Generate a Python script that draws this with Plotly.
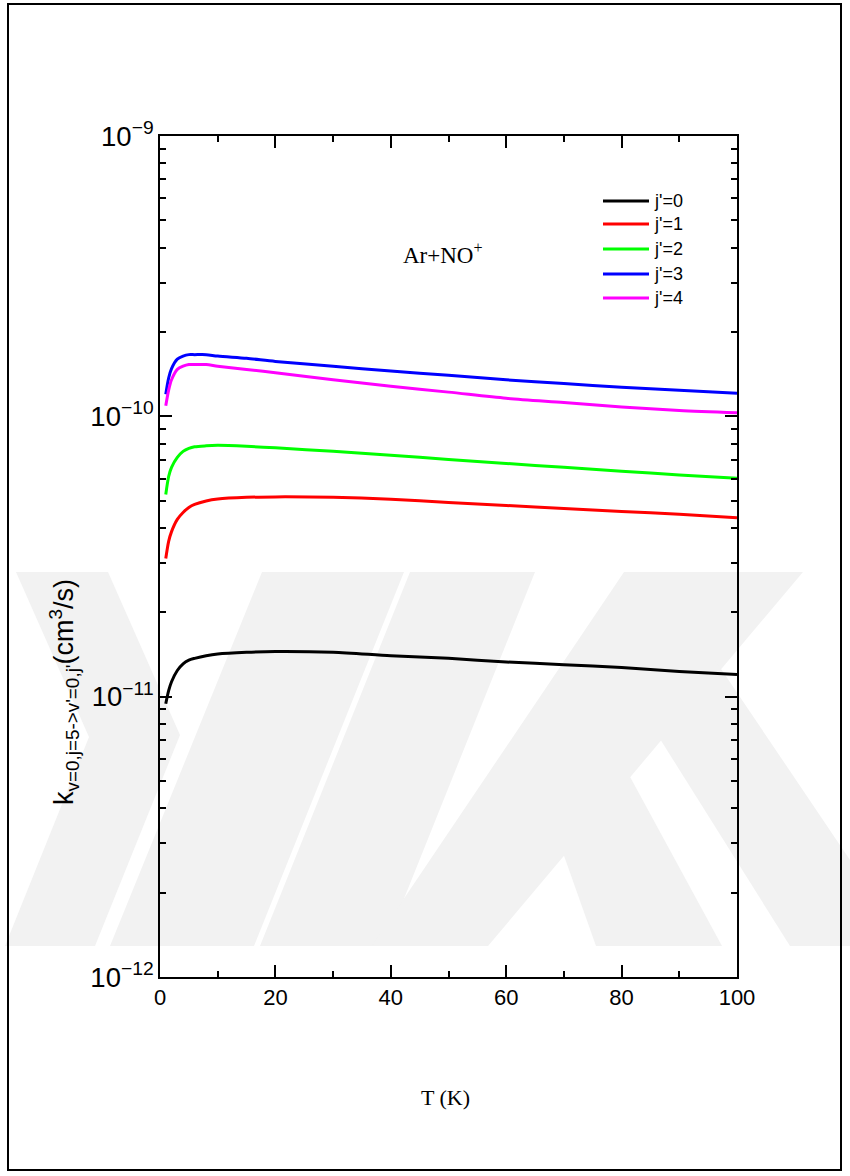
import plotly.graph_objects as go

# Temperature grid (K)
T = [1, 1.5, 2, 3, 4, 5, 6, 8, 10, 15, 20, 30, 40, 50, 60, 70, 80, 90, 100]

# Rate coefficients k(v=0,j=5 -> v'=0,j') in cm^3/s
k_j0 = [9.44e-12, 1.05e-11, 1.13e-11, 1.24e-11, 1.31e-11, 1.35e-11, 1.37e-11, 1.40e-11,
        1.42e-11, 1.44e-11, 1.45e-11, 1.44e-11, 1.40e-11, 1.37e-11, 1.33e-11, 1.30e-11,
        1.27e-11, 1.23e-11, 1.20e-11]
k_j1 = [3.11e-11, 3.58e-11, 3.88e-11, 4.29e-11, 4.54e-11, 4.73e-11, 4.85e-11, 4.99e-11,
        5.07e-11, 5.14e-11, 5.16e-11, 5.14e-11, 5.06e-11, 4.93e-11, 4.81e-11, 4.69e-11,
        4.58e-11, 4.47e-11, 4.35e-11]
k_j2 = [5.26e-11, 6.10e-11, 6.58e-11, 7.14e-11, 7.50e-11, 7.69e-11, 7.79e-11, 7.85e-11,
        7.88e-11, 7.82e-11, 7.72e-11, 7.50e-11, 7.26e-11, 7.02e-11, 6.79e-11, 6.58e-11,
        6.37e-11, 6.18e-11, 6.01e-11]
k_j3 = [1.20e-10, 1.37e-10, 1.48e-10, 1.60e-10, 1.64e-10, 1.66e-10, 1.66e-10, 1.66e-10,
        1.64e-10, 1.61e-10, 1.57e-10, 1.51e-10, 1.45e-10, 1.40e-10, 1.35e-10, 1.31e-10,
        1.27e-10, 1.24e-10, 1.21e-10]
k_j4 = [1.09e-10, 1.24e-10, 1.35e-10, 1.47e-10, 1.51e-10, 1.53e-10, 1.53e-10, 1.53e-10,
        1.51e-10, 1.47e-10, 1.43e-10, 1.35e-10, 1.28e-10, 1.22e-10, 1.16e-10, 1.12e-10,
        1.08e-10, 1.05e-10, 1.03e-10]

series_names = ["j'=0", "j'=1", "j'=2", "j'=3", "j'=4"]
series_values = [k_j0, k_j1, k_j2, k_j3, k_j4]
series_colors = ["#000000", "#ff0000", "#00ff00", "#0000ff", "#ff00ff"]

x_ticks = [0, 20, 40, 60, 80, 100]

W, H = 850, 1176
L, R, TOP, B = 160, 113, 136, 199
PW, PH = W - L - R, H - TOP - B


def px(x):
    return (x - L) / PW


def py(y):
    return (H - B - y) / PH


SANS = "Arial, Liberation Sans, sans-serif"
SERIF = "Times New Roman, Liberation Serif, serif"

fig = go.Figure()
for name, vals, col in zip(series_names, series_values, series_colors):
    fig.add_trace(go.Scatter(x=T, y=vals, mode="lines", name=name,
                             line=dict(color=col, width=3, shape="spline", smoothing=0.8),
                             showlegend=False))

shapes = []
annotations = []

# faint background emblem
WM = "#f2f2f2"
wm_polys = [
    [(16, 572), (108, 572), (180, 735), (95, 946), (5, 946), (89, 737)],
    [(262, 572), (404, 572), (254, 946), (110, 946)],
    [(410, 572), (535, 572), (385, 946), (260, 946)],
    [(624, 572), (803, 572), (488, 946), (372, 946)],
    [(650, 723), (715, 660), (850, 860), (850, 946), (790, 946)],
    [(551, 819), (610, 740), (722, 946), (596, 946)],
]
for poly in wm_polys:
    path = "M " + " L ".join(f"{px(x):.5f},{py(y):.5f}" for x, y in poly) + " Z"
    shapes.append(dict(type="path", xref="paper", yref="paper", path=path,
                       fillcolor=WM, line=dict(width=0), layer="below"))

# outer frame
shapes.append(dict(type="rect", xref="paper", yref="paper",
                   x0=px(8), x1=px(841), y0=py(1170), y1=py(4),
                   line=dict(color="black", width=2), fillcolor="rgba(0,0,0,0)"))

# legend drawn as line samples with labels
leg_y = [201, 224, 249, 274, 298]
for name, col, yy in zip(series_names, series_colors, leg_y):
    shapes.append(dict(type="line", xref="paper", yref="paper",
                       x0=px(603), x1=px(649), y0=py(yy), y1=py(yy),
                       line=dict(color=col, width=3)))
    annotations.append(dict(xref="paper", yref="paper", x=px(652), y=py(yy),
                            text=name, showarrow=False, xanchor="left", yanchor="middle",
                            font=dict(family=SANS, size=18, color="black")))

annotations.append(dict(xref="paper", yref="paper", x=px(443), y=py(253),
                        text="Ar+NO<sup>+</sup>", showarrow=False,
                        xanchor="center", yanchor="middle",
                        font=dict(family=SERIF, size=23, color="black")))
annotations.append(dict(xref="paper", yref="paper", x=px(445), y=py(1097),
                        text="T (K)", showarrow=False,
                        xanchor="center", yanchor="middle",
                        font=dict(family=SERIF, size=22, color="black")))
annotations.append(dict(xref="paper", yref="paper", x=px(64), y=py(692),
                        text="k<sub>v=0,j=5->v'=0,j'</sub>(cm<sup>3</sup>/s)",
                        textangle=-90, showarrow=False,
                        xanchor="center", yanchor="middle",
                        font=dict(family=SANS, size=27, color="black")))

axis_common = dict(showline=True, linecolor="black", linewidth=2, mirror="allticks",
                   ticks="inside", ticklen=12, tickwidth=2, tickcolor="black",
                   showgrid=False, zeroline=False,
                   tickfont=dict(family=SANS, size=22, color="black"))

fig.update_layout(
    width=W, height=H, margin=dict(l=L, r=R, t=TOP, b=B, pad=0),
    paper_bgcolor="white", plot_bgcolor="rgba(0,0,0,0)",
    xaxis=dict(range=[0, 100], tickvals=x_ticks,
               minor=dict(dtick=10, ticks="inside", ticklen=6, tickwidth=2, tickcolor="black"),
               **axis_common),
    yaxis=dict(type="log", range=[-12, -9], dtick=1, exponentformat="power",
               minor=dict(dtick="D1", ticks="inside", ticklen=6, tickwidth=2, tickcolor="black"),
               **axis_common),
    shapes=shapes, annotations=annotations,
)

fig.write_html("out.html")
